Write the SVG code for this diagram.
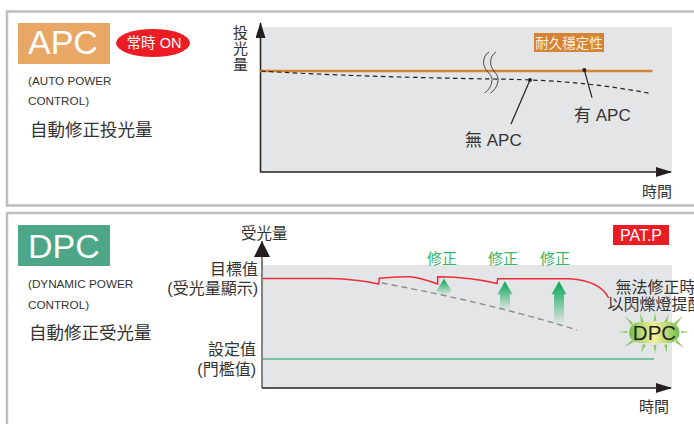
<svg xmlns="http://www.w3.org/2000/svg" width="694" height="424" viewBox="0 0 694 424">
<style>
text{font-family:"Liberation Sans","Noto Sans CJK TC",sans-serif;fill:#333}
.sub{font-size:11.700px}
.zh{font-size:17.500px}
.ax{font-size:15px}
.lb{font-size:16px}
.big{font-size:34px;fill:#fff}
.fix{font-size:15px;fill:#39b56a}
.axis{stroke:#231f20;stroke-width:1.500;fill:none}
.plot{fill:#e4e5e7}
.ray{fill:#8cc963}
</style>
<defs>
<marker id="ah" markerUnits="userSpaceOnUse" markerWidth="16" markerHeight="10" refX="15" refY="5" orient="auto"><path d="M0 0L16 5L0 10Z" fill="#231f20"/></marker>
<linearGradient id="g1" x1="0" y1="0" x2="0" y2="1"><stop offset="0" stop-color="#00a651"/><stop offset="1" stop-color="#00a651" stop-opacity="0"/></linearGradient>
<linearGradient id="g2" x1="0" y1="0" x2="1" y2="0"><stop offset="0" stop-color="#6fbf4a"/><stop offset=".25" stop-color="#b9d977"/><stop offset=".5" stop-color="#f4f29a"/><stop offset=".75" stop-color="#b9d977"/><stop offset="1" stop-color="#6fbf4a"/></linearGradient>
</defs>
<rect width="694" height="424" fill="#fff"/>
<g id="panel-apc">
<path d="M696 11.500H7V205.500H696" fill="none" stroke="#bcbec0" stroke-width="2.500"/>
<rect x="18" y="23" width="92" height="41" fill="#e8a765"/>
<text class="big" x="28" y="54">APC</text>
<ellipse cx="153" cy="43" rx="37" ry="14" fill="#ed1c24"/>
<text x="154" y="48" text-anchor="middle" style="font-size:14.500px;fill:#fff">常時 ON</text>
<text class="sub" x="28" y="85">(AUTO POWER</text>
<text class="sub" x="28" y="105">CONTROL)</text>
<text class="zh" x="30" y="136">自動修正投光量</text>
<rect class="plot" x="261" y="27" width="411" height="145"/>
<text class="ax" x="233" y="37.500">投</text><text class="ax" x="233" y="53.500">光</text><text class="ax" x="233" y="69.500">量</text>
<text class="ax" x="642" y="197">時間</text>
</g>
<g id="panel-dpc">
<path d="M696 213H7V426" fill="none" stroke="#bcbec0" stroke-width="2.500"/>
<rect x="18" y="225" width="92" height="41" fill="#4da688"/>
<text class="big" x="28" y="258">DPC</text>
<text class="sub" x="28" y="288">(DYNAMIC POWER</text>
<text class="sub" x="28" y="309">CONTROL)</text>
<text class="zh" x="29" y="339">自動修正受光量</text>
<rect class="plot" x="263" y="265" width="409" height="123"/>
<text class="ax" x="241" y="239" style="font-size:15.500px">受光量</text>
<text class="lb" x="258" y="275" text-anchor="end">目標值</text>
<text class="lb" x="258" y="294" text-anchor="end">(受光量顯示)</text>
<text class="lb" x="256" y="355" text-anchor="end">設定值</text>
<text class="lb" x="256" y="375" text-anchor="end">(門檻值)</text>
<rect x="613" y="225" width="56" height="20" fill="#ed1c24"/>
<text x="641" y="241" text-anchor="middle" style="font-size:16px;fill:#fff">PAT.P</text>
<text class="fix" x="427" y="264">修正</text>
<text class="fix" x="488" y="264">修正</text>
<text class="fix" x="540" y="264">修正</text>
<text class="ax" x="639" y="412">時間</text>
<text x="615.500" y="293" style="font-size:16px">無法修正時</text>
<text x="607.500" y="310" style="font-size:16px">以閃爍燈提醒</text>
</g>
<g id="connectors">
<path d="M260.500 172V23" class="axis" marker-end="url(#ah)"/>
<path d="M260 172H671" class="axis" marker-end="url(#ah)"/>
<path d="M262 388V241" style="stroke:#58595b;stroke-width:1.500;fill:none"/>
<path d="M262 241L254 257H270Z" fill="#231f20"/>
<path d="M262 388H671" class="axis" marker-end="url(#ah)"/>
<path d="M260 71H652.500" stroke="#d58436" stroke-width="2.500" fill="none"/>
<path d="M261 71C320 75 420 78 494 79S610 86 651 93.500" stroke="#231f20" stroke-width="1.200" stroke-dasharray="4.500 3.500" fill="none"/>
<path d="M489 52C484 55 482 62 485 68C488 73 493 76 492 81C491 87 488 91 484.300 93M496 52C491 55 489 62 492 68C495 73 499 76 498 81C497 87 494 91 490.300 93" stroke="#231f20" stroke-width=".8" fill="none"/>
<path d="M530 80L511 124M584.300 70L592 97.700" stroke="#231f20" stroke-width="1.200" fill="none"/>
<circle cx="530" cy="80" r="2" fill="#231f20"/>
<circle cx="584.300" cy="70" r="2" fill="#231f20"/>
<path d="M263 278.500H330C350 279 365 281 378.700 284L379.300 278.300C390 277 400 276.500 410 276.700C420 278 430 281 437.700 284V276.700C460 277 480 279 497 283.500L497.700 278.700H570C590 280 603 287 608.700 298" stroke="#ed2d3a" stroke-width="1.500" fill="none"/>
<path d="M382 283C425 291 500 306 577 330" stroke="#8a8c8e" stroke-width="1.400" stroke-dasharray="6 4" fill="none"/>
<path d="M263 359H654" stroke="#5ab58a" stroke-width="1.500" fill="none"/>
<path d="M444 278.700L452 291.300H449.500V295H438.500V291.300H436Z" fill="url(#g1)"/>
<path d="M505 281.300L512.500 294.300H510V310H500V294.300H497.500Z" fill="url(#g1)"/>
<path d="M559 281.300L566.500 294.300H564V324H554V294.300H551.500Z" fill="url(#g1)"/>
</g>
<g id="tag-durable">
<rect x="534" y="33" width="70" height="19" fill="#d58436"/>
<text x="569" y="48" text-anchor="middle" style="font-size:13.500px;fill:#fbeedd">耐久穩定性</text>
</g>
<g id="label-no-apc"><text x="465" y="146" style="font-size:17px">無 APC</text></g>
<g id="label-with-apc"><text x="574" y="121" style="font-size:17px">有 APC</text></g>
<g id="dpc-lamp">
<path class="ray" d="M625 316L633 323L631 325ZM640 313L644 322L641 323ZM655 312L656.500 321H653.500ZM669 314L667 323L664 322ZM683 316L676 325L674 323ZM618 332L627 331V333ZM690 332L681 331V333ZM624 347L632 340L634 342ZM641 353L643 344L646 345ZM655 354L653.500 345H656.500ZM667 353L664 345L667 344ZM684 348L675 342L677 340Z"/>
<rect x="629" y="322" width="50.500" height="21" rx="10.500" fill="url(#g2)"/>
<text x="654.500" y="340" text-anchor="middle" style="font-size:20.500px;fill:#231f20">DPC</text>
</g>
</svg>
